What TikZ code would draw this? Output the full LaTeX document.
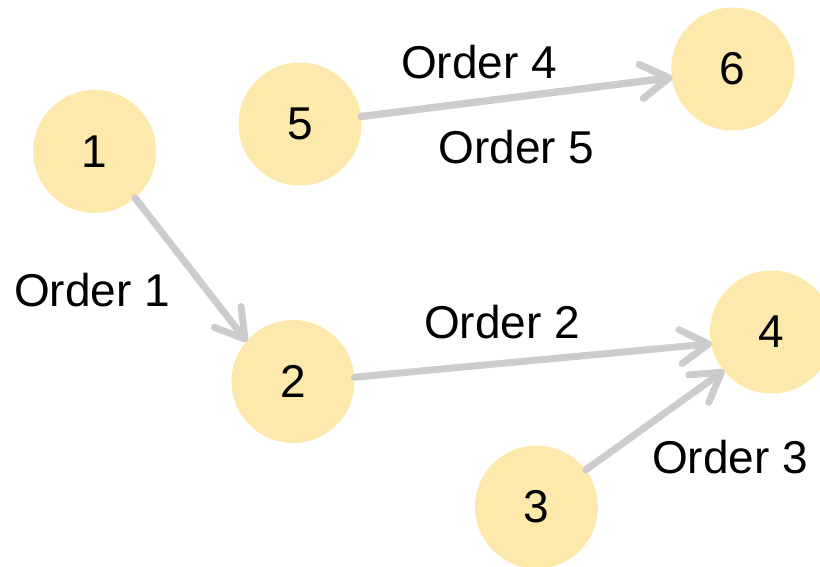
\documentclass[tikz,border=0pt]{standalone}
\usepackage{fontspec}
\setmainfont{Liberation Sans}
\usetikzlibrary{arrows.meta}
\definecolor{nodefill}{HTML}{FDE9AC}
\definecolor{edgegray}{HTML}{CCCCCC}
\begin{document}
\begin{tikzpicture}[x=1pt,y=-1pt,
  vertex/.style={circle,fill=nodefill,draw=none,minimum size=123pt,inner sep=0pt,
    font=\fontsize{46}{55}\selectfont},
  lbl/.style={font=\fontsize{46}{55}\selectfont,inner sep=0pt},
  conn/.style={draw=edgegray,line width=7pt,line cap=round,
    -{Straight Barb[length=28pt,width=34pt,line cap=round,line join=round]},
    shorten >=-1pt}]
\useasboundingbox (0,0) rectangle (820,566);
\node[vertex] (n1) at (94.7,151.5) {1};
\node[vertex] (n2) at (293,381.5) {2};
\node[vertex] (n3) at (536.5,507) {3};
\node[vertex] (n4) at (771.5,332) {4};
\node[vertex] (n5) at (300,124) {5};
\node[vertex] (n6) at (732.7,69) {6};
\draw[conn] (n1.-49) -- (n2.139.6);
\draw[conn] (n2.4.4) -- (n4.191.3);
\draw[conn] (n3.37.3) -- (n4.219.9);
\draw[conn] (n5.7.4) -- (n6.188.4);
\draw[conn] (n5.7.4) -- (n6.188.4);
\node[lbl] (l1) at (92,290) {Order 1};
\node[lbl] (l2) at (502,322) {Order 2};
\node[lbl] (l3) at (730,457) {Order 3};
\node[lbl] (l4) at (479,62) {Order 4};
\node[lbl] (l5) at (516.5,147) {Order 5};
\end{tikzpicture}
\end{document}
